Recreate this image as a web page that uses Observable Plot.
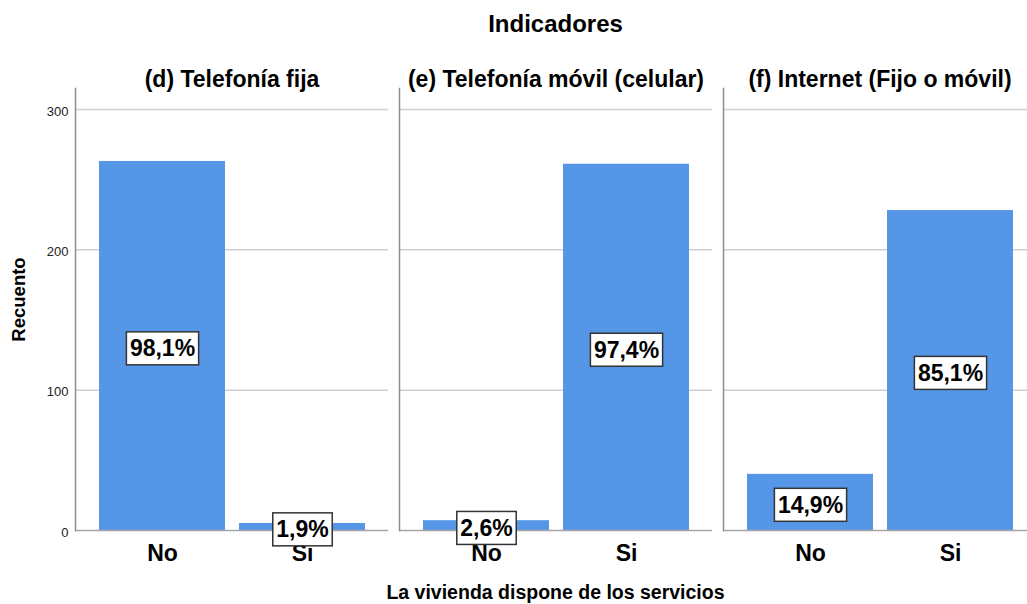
<!DOCTYPE html>
<html><head><meta charset="utf-8">
<script src="https://cdn.jsdelivr.net/npm/d3@7"></script>
<script src="https://cdn.jsdelivr.net/npm/@observablehq/plot@0.6"></script>
<style>
html, body {margin:0; padding:0; overflow:hidden; background:#fff;}
body {font-family: "Liberation Sans", Arial, sans-serif; width:1036px;}
.ttl {box-sizing:border-box; width:1036px; padding-left:75px; text-align:center; color:#000; white-space:nowrap;}
</style></head>
<body>
<div class="ttl" style="height:48px;line-height:48px;font-size:24px;font-weight:bold;">Indicadores</div>
<div id="chart"></div>
<div class="ttl" style="height:41px;line-height:41px;font-size:19.5px;font-weight:bold;">La vivienda dispone de los servicios</div>
<script>
const facets = ["(d) Telefonía fija", "(e) Telefonía móvil (celular)", "(f) Internet (Fijo o móvil)"];
const answers = ["No", "Si"];
const countsD = [263, 5];
const countsE = [7, 261];
const countsF = [40, 228];
const pctD = ["98,1%", "1,9%"];
const pctE = ["2,6%", "97,4%"];
const pctF = ["14,9%", "85,1%"];
const yTicks = [0, 100, 200, 300];
const yLabel = "Recuento";

const rows = [];
[[countsD, pctD], [countsE, pctE], [countsF, pctF]].forEach(([c, p], i) =>
  answers.forEach((a, j) => rows.push({facet: facets[i], answer: a, count: c[j], pct: p[j]})));

const font = "'Liberation Sans', Arial, sans-serif";
const chart = Plot.plot({
  width: 1036, height: 524,
  marginTop: 40, marginBottom: 42, marginLeft: 75, marginRight: 0,
  style: {fontFamily: font, background: "#fff", color: "#000"},
  fx: {domain: facets, paddingInner: 0.034, paddingOuter: 0, axis: null, label: null},
  x: {domain: answers, paddingInner: 0.1, paddingOuter: 0.163, axis: null, label: null},
  y: {domain: [0, 315], axis: null, label: null},
  marks: [
    Plot.ruleY(yTicks.filter(t => t > 0), {stroke: "#cfcfcf", strokeWidth: 1.5}),
    Plot.barY(rows, {fx: "facet", x: "answer", y: "count", fill: "#5596e6"}),
    Plot.ruleY([0], {stroke: "#a6a6a6", strokeWidth: 1.5}),
    Plot.frame({anchor: "left", stroke: "#8e8e8e", strokeWidth: 1.5}),
    Plot.axisY({ticks: yTicks, tickSize: 0, tickPadding: 7, fontSize: 13, label: null, fill: "#222", dy: 2}),
    Plot.axisX({tickSize: 0, tickPadding: 14, fontSize: 23, fontWeight: "bold", label: null, fill: "#000"}),
    Plot.text(facets, {fx: d => d, text: d => d, frameAnchor: "top", dy: -18, fontSize: 23, fontWeight: "bold", fill: "#000"}),
    Plot.text([yLabel], {fx: () => facets[0], text: d => d, frameAnchor: "left", textAnchor: "middle", lineAnchor: "middle", rotate: -90, dx: -56, dy: -10, fontSize: 18.5, fontWeight: "bold", fill: "#000"}),
    Plot.text(rows, {fx: "facet", x: "answer", y: d => d.count / 2, text: "pct", dy: 3, fontSize: 23, fontWeight: "bold", fill: "#000", className: "pct"})
  ]
});
document.getElementById("chart").append(chart);
chart.querySelectorAll(".pct text").forEach(t => {
  const bb = t.getBBox();
  const r = document.createElementNS("http://www.w3.org/2000/svg", "rect");
  r.setAttribute("x", bb.x - 3.5);
  r.setAttribute("y", bb.y - 3.5);
  r.setAttribute("width", bb.width + 7);
  r.setAttribute("height", bb.height + 7);
  r.setAttribute("fill", "#fff");
  r.setAttribute("stroke", "#333");
  r.setAttribute("stroke-width", "1.5");
  const tr = t.getAttribute("transform");
  if (tr) r.setAttribute("transform", tr);
  t.parentNode.insertBefore(r, t);
});
</script>
</body></html>
